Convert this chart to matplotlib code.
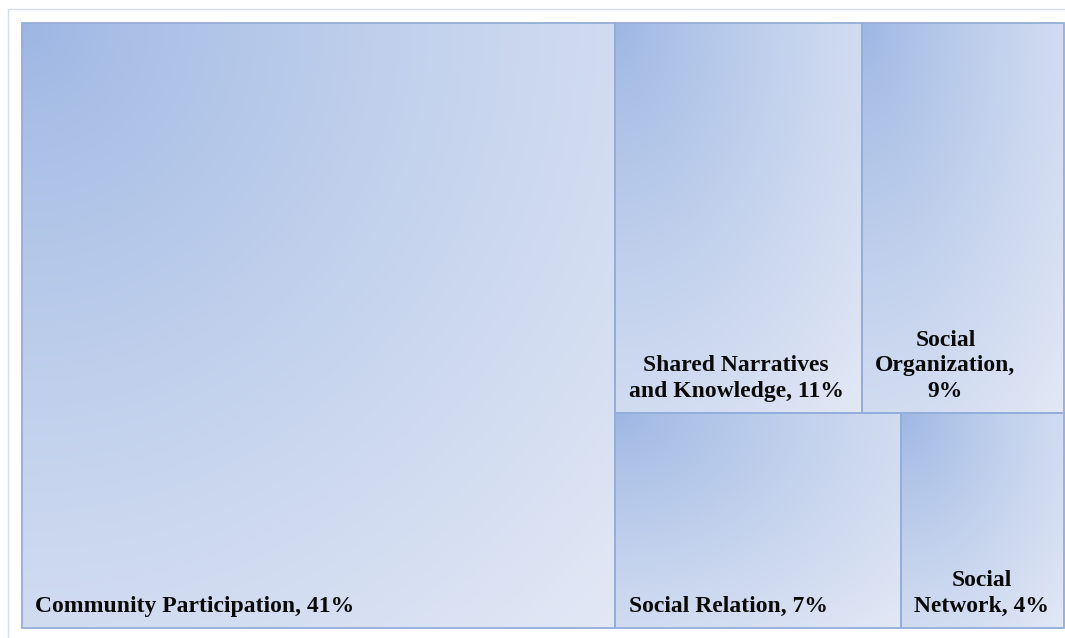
import numpy as np
import matplotlib.pyplot as plt
from matplotlib.patches import Rectangle

labels = ['Community Participation, 41%',
          'Shared Narratives\nand Knowledge, 11%',
          'Social\nOrganization,\n9%',
          'Social Relation, 7%',
          'Social\nNetwork, 4%']
shares = [41, 11, 9, 7, 4]

dark = np.array([156, 182, 227]) / 255
light = np.array([226, 232, 245]) / 255
edge = '#93AEDB'


def layout(vals):
    # first item takes a full-height column, the rest go in two rows of two
    total = sum(vals)
    w0 = vals[0] / total
    rects = [(0.0, 0.0, w0, 1.0)]
    rest = total - vals[0]
    top = vals[1] + vals[2]
    bot = vals[3] + vals[4]
    h_top = top / rest
    x = w0
    for v in vals[1:3]:
        w = (1 - w0) * v / top
        rects.append((x, 1 - h_top, w, h_top))
        x += w
    x = w0
    for v in vals[3:5]:
        w = (1 - w0) * v / bot
        rects.append((x, 0.0, w, 1 - h_top))
        x += w
    return rects


def gradient(n=200):
    u, v = np.meshgrid(np.linspace(0, 1, n), np.linspace(0, 1, n))
    t = np.clip(np.sqrt(u ** 2 + v ** 2) / np.sqrt(2), 0, 1) ** 0.8
    return dark[None, None, :] * (1 - t[..., None]) + light[None, None, :] * t[..., None]


W, H = 1065, 638
fig = plt.figure(figsize=(W / 100, H / 100), dpi=100)
fig.patches.append(Rectangle((8 / W, -0.1), 1.2, 1 - 9 / H + 0.1, transform=fig.transFigure,
                             fill=False, edgecolor='#D6DDEC', lw=1.0))

ax = fig.add_axes([22 / W, 1 - 628 / H, 1042 / W, 605 / H])
ax.set_xlim(0, 1)
ax.set_ylim(0, 1)
ax.axis('off')

img = gradient()
for (x, y, w, h), lab in zip(layout(shares), labels):
    ax.imshow(img, extent=(x, x + w, y, y + h), origin='upper', aspect='auto',
              interpolation='bilinear', zorder=1)
    ax.add_patch(Rectangle((x, y), w, h, fill=False, edgecolor=edge, lw=1.3, zorder=2,
                           clip_on=False))
    ax.annotate(lab, (x, y), xytext=(9.5, 8), textcoords='offset points',
                ha='left', va='bottom', multialignment='center', linespacing=1.3,
                fontsize=17, fontweight='bold', family='Liberation Serif',
                color='#0A0A0A', zorder=3)

ax.set_xlim(0, 1)
ax.set_ylim(0, 1)
fig.savefig('out.png', dpi=100)
